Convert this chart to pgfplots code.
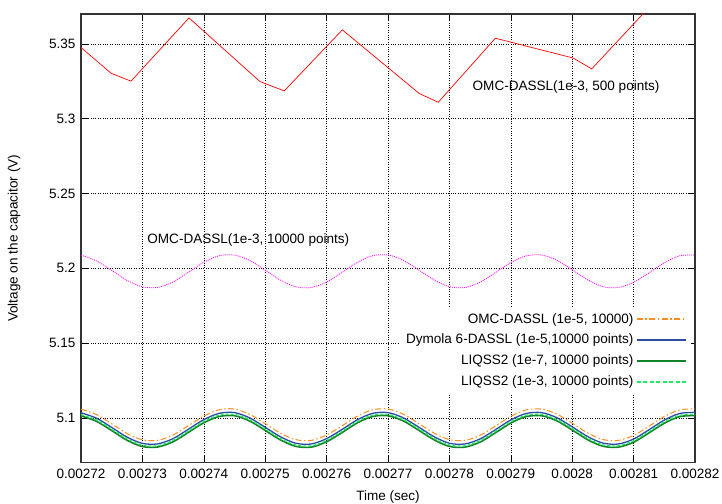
\documentclass[border=0pt]{standalone}
\usepackage{pgfplots}
\pgfplotsset{compat=1.18}
\usepackage{pgfplotstable}
\usepackage{fontspec}
\setmainfont{Liberation Sans}
\definecolor{orangeq}{RGB}{255,140,30}
\definecolor{blueq}{RGB}{45,75,165}
\definecolor{dgreenq}{RGB}{20,130,40}
\definecolor{lgreenq}{RGB}{30,235,95}
\definecolor{magq}{RGB}{255,0,255}

% x in units of 1e-5 s
\pgfplotstableread{
x mag ora blu lgr dgr
272.00 5.2088 5.1058 5.1034 5.1022 5.1013
272.25 5.2050 5.1022 5.0998 5.0986 5.0977
272.50 5.1986 5.0960 5.0936 5.0924 5.0915
272.75 5.1919 5.0895 5.0871 5.0859 5.0850
273.00 5.1876 5.0853 5.0829 5.0817 5.0808
273.25 5.1872 5.0850 5.0826 5.0814 5.0805
273.50 5.1909 5.0885 5.0861 5.0849 5.0840
273.75 5.1973 5.0948 5.0924 5.0912 5.0903
274.00 5.2040 5.1012 5.0988 5.0976 5.0967
274.25 5.2084 5.1054 5.1030 5.1018 5.1009
274.50 5.2088 5.1059 5.1035 5.1023 5.1014
274.75 5.2052 5.1023 5.0999 5.0987 5.0978
275.00 5.1987 5.0961 5.0937 5.0925 5.0916
275.25 5.1920 5.0897 5.0873 5.0861 5.0852
275.50 5.1876 5.0854 5.0830 5.0818 5.0809
275.75 5.1871 5.0849 5.0825 5.0813 5.0804
276.00 5.1908 5.0885 5.0861 5.0849 5.0840
276.25 5.1972 5.0946 5.0922 5.0910 5.0901
276.50 5.2039 5.1011 5.0987 5.0975 5.0966
276.75 5.2084 5.1054 5.1030 5.1018 5.1009
277.00 5.2089 5.1059 5.1035 5.1023 5.1014
277.25 5.2053 5.1024 5.1000 5.0988 5.0979
277.50 5.1989 5.0962 5.0938 5.0926 5.0917
277.75 5.1922 5.0898 5.0874 5.0862 5.0853
278.00 5.1877 5.0854 5.0830 5.0818 5.0809
278.25 5.1871 5.0849 5.0825 5.0813 5.0804
278.50 5.1907 5.0883 5.0859 5.0847 5.0838
278.75 5.1971 5.0945 5.0921 5.0909 5.0900
279.00 5.2038 5.1010 5.0986 5.0974 5.0965
279.25 5.2083 5.1053 5.1029 5.1017 5.1008
279.50 5.2089 5.1059 5.1035 5.1023 5.1014
279.75 5.2054 5.1025 5.1001 5.0989 5.0980
280.00 5.1990 5.0964 5.0940 5.0928 5.0919
280.25 5.1923 5.0899 5.0875 5.0863 5.0854
280.50 5.1877 5.0855 5.0831 5.0819 5.0810
280.75 5.1871 5.0849 5.0825 5.0813 5.0804
281.00 5.1906 5.0882 5.0858 5.0846 5.0837
281.25 5.1969 5.0944 5.0920 5.0908 5.0899
281.50 5.2037 5.1009 5.0985 5.0973 5.0964
281.75 5.2083 5.1053 5.1029 5.1017 5.1008
282.00 5.2089 5.1060 5.1036 5.1024 5.1015
}\osc

\begin{document}
\begin{tikzpicture}[font=\fontsize{13.6}{16}\selectfont]
\useasboundingbox (-81bp,-41.3bp) rectangle (641bp,462.7bp);
\begin{axis}[
  scale only axis,
  width=614bp, height=448.7bp,
  xmin=272, xmax=282,
  ymin=5.07, ymax=5.37,
  xtick={272,273,274,275,276,277,278,279,280,281,282},
  xticklabels={0.00272,0.00273,0.00274,0.00275,0.00276,0.00277,0.00278,0.00279,0.0028,0.00281,0.00282},
  ytick={5.1,5.15,5.2,5.25,5.3,5.35},
  yticklabels={5.1,5.15,5.2,5.25,5.3,5.35},
  grid=major,
  major grid style={black, line width=0.5pt, dash pattern=on 0.8bp off 1.6bp},
  major tick length=7bp,
  tick style={black, line width=0.6pt},
  axis line style={black!80, line width=1.1pt},
  tick align=inside,
  xlabel={Time (sec)},
  ylabel={Voltage on the capacitor (V)},
  xlabel style={at={(axis description cs:0.5,0)}, anchor=center, yshift=-34bp},
  ylabel style={at={(axis description cs:-0.1091,0.5)}, anchor=center},
  xticklabel style={yshift=-3bp},
  yticklabel style={xshift=-2bp},
  legend style={at={(0.993,0.347)}, anchor=north east, draw=none, fill=white,
    row sep=5.6bp, inner xsep=4bp, inner ysep=4bp},
  legend cell align=right,
  legend plot pos=right,
  legend image code/.code={\draw[#1] (0bp,0bp) -- (49bp,0bp);},
  clip=true,
]
% OMC-DASSL 1e-3, 500 points
\addplot[red, line width=0.7pt, forget plot] coordinates {
(272.000,5.3476) (272.489,5.3304) (272.814,5.3251) (273.759,5.3674)
(274.915,5.3248) (275.311,5.3186) (276.256,5.3594) (277.510,5.3168)
(277.819,5.3110) (278.748,5.3538) (280.013,5.3406) (280.318,5.3333)
(282.000,5.4074)};
% OMC-DASSL 1e-3, 10000 points
\addplot[magq, line width=0.8pt, dash pattern=on 1bp off 1bp, smooth, forget plot] table[x=x,y=mag] {\osc};
\addplot[orangeq, line width=1.0pt, dash pattern=on 6bp off 2.5bp on 1.5bp off 2.5bp, smooth, forget plot] table[x=x,y=ora] {\osc};
\addplot[blueq, line width=1.3pt, smooth, forget plot] table[x=x,y=blu] {\osc};
\addplot[dgreenq, line width=1.6pt, smooth, forget plot] table[x=x,y=dgr] {\osc};
\addplot[lgreenq, line width=1.2pt, dash pattern=on 3bp off 2bp, smooth, forget plot] table[x=x,y=lgr] {\osc};
\addlegendimage{orangeq, line width=1.5pt, dash pattern=on 6bp off 2.5bp on 1.5bp off 2.5bp}
\addlegendentry{OMC-DASSL (1e-5, 10000)}
\addlegendimage{blueq, line width=1.8pt}
\addlegendentry{Dymola 6-DASSL (1e-5,10000 points)}
\addlegendimage{dgreenq, line width=1.8pt}
\addlegendentry{LIQSS2 (1e-7, 10000 points)}
\addlegendimage{lgreenq, line width=2pt, dash pattern=on 4bp off 2.5bp}
\addlegendentry{LIQSS2 (1e-3, 10000 points)}
\node[anchor=center, fill=none] at (axis cs:279.90,5.3209) {OMC-DASSL(1e-3, 500 points)};
\node[anchor=center, fill=none] at (axis cs:274.725,5.2188) {OMC-DASSL(1e-3, 10000 points)};
\end{axis}
\end{tikzpicture}
\end{document}
